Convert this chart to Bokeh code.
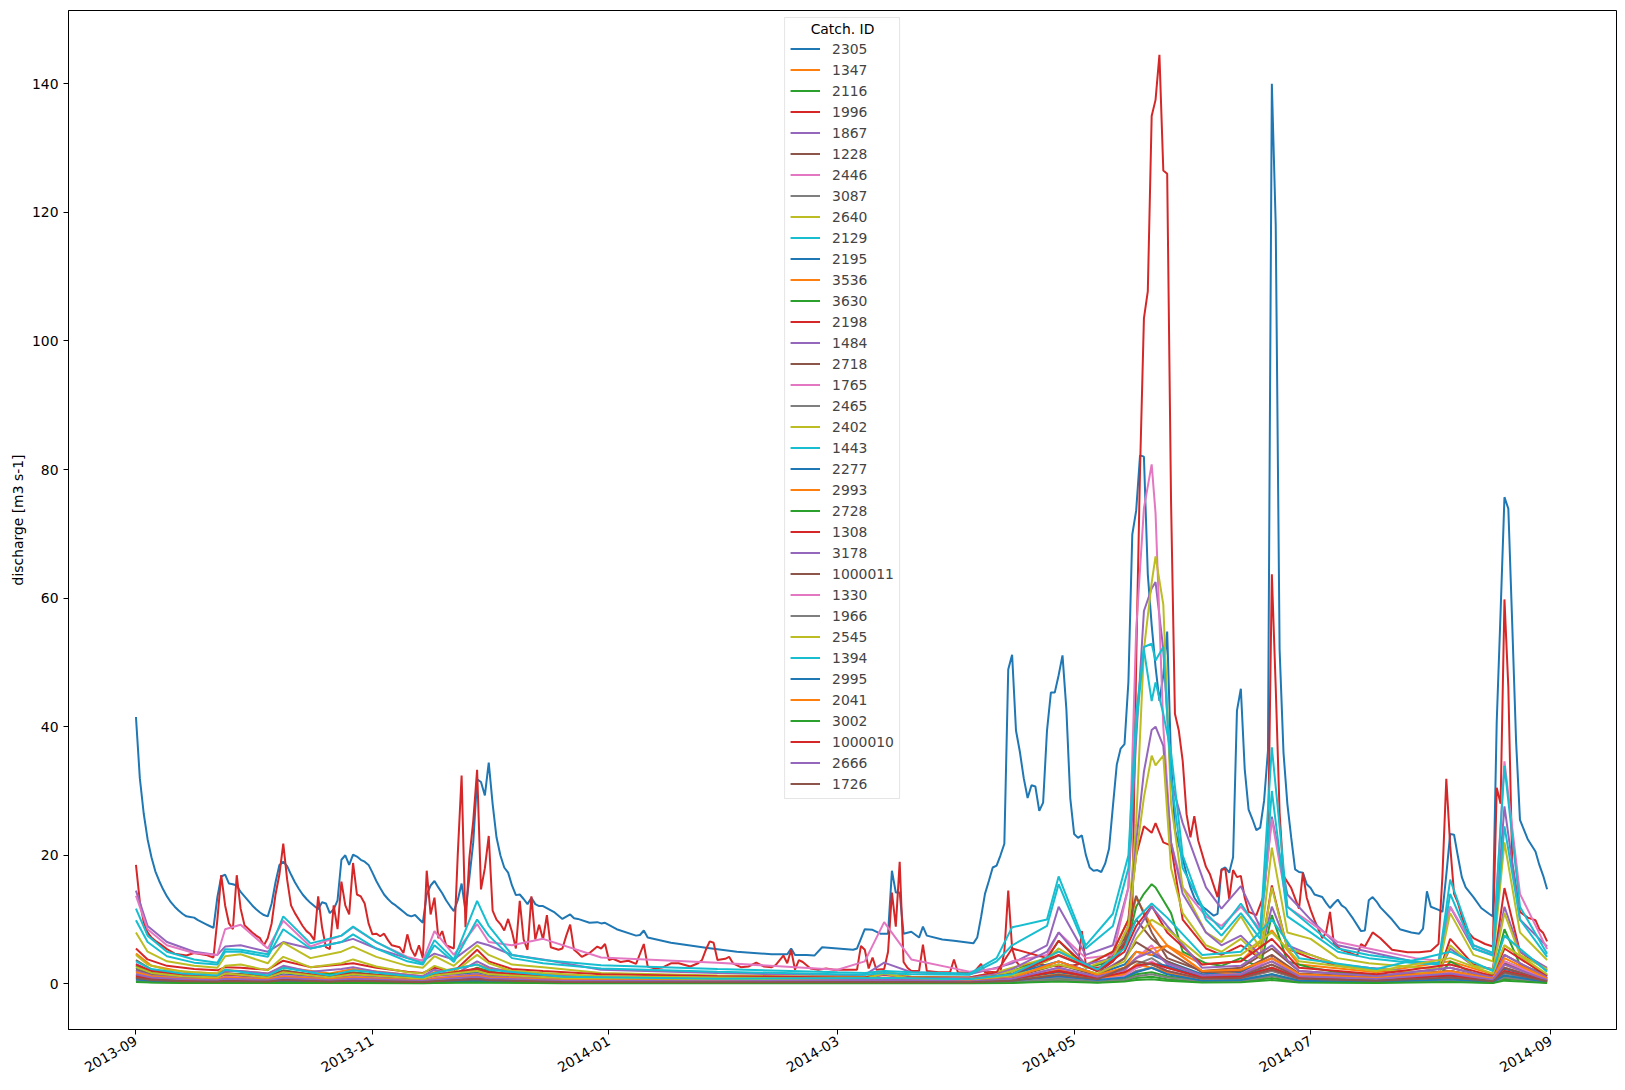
import datetime as dt
import math
from bokeh.plotting import figure
from bokeh.models import FixedTicker, DatetimeTickFormatter, Range1d, Label
from bokeh.embed import file_html
from bokeh.resources import INLINE

START = dt.datetime(2013, 9, 1)
EPOCH = dt.datetime(1970, 1, 1)
FONT = "DejaVu Sans"
TAB10 = ["#1f77b4", "#ff7f0e", "#2ca02c", "#d62728", "#9467bd",
         "#8c564b", "#e377c2", "#7f7f7f", "#bcbd22", "#17becf"]

catch_ids = ["2305", "1347", "2116", "1996", "1867", "1228", "2446", "3087", "2640", "2129",
             "2195", "3536", "3630", "2198", "1484", "2718", "1765", "2465", "2402", "1443",
             "2277", "2993", "2728", "1308", "3178", "1000011", "1330", "1966", "2545", "1394",
             "2995", "2041", "3002", "1000010", "2666", "1726"]

# ---- dense series: (day since 2013-09-01, discharge) ----
q2305 = [(0,41.5),(1,32),(2,26.5),(3,22.5),(4,19.7),(5,17.5),(6,16),(7,14.7),(8,13.6),(9,12.7),(10,12),(11,11.4),(12,10.9),(13,10.5),(14,10.4),(15,10.3),(16,9.9),(17,9.6),(18,9.3),(19,9),(20,8.7),(21,13.5),(22,16.7),(23,17),(24,15.6),(25,15.5),(26,15.3),(27,14.3),(28,13.6),(29,12.9),(30,12.2),(31,11.6),(32,11.1),(33,10.7),(34,10.5),(35,12.5),(36,15.8),(37,18.5),(38,19),(39,18.3),(40,17),(41,15.8),(42,14.8),(43,13.9),(44,13.2),(45,12.6),(46,12.1),(47,11.6),(48,12.7),(49,12.5),(50,11),(51,11.6),(52,13),(53,19.3),(54,20),(55,18.5),(56,20.1),(57,19.8),(58,19.3),(59,19),(60,18.5),(61,17.3),(62,16),(63,14.9),(64,13.9),(65,13.2),(66,12.6),(67,12.2),(68,11.7),(69,11.2),(70,10.7),(71,10.5),(72,10.7),(73,10.1),(74,9.5),(75,13.9),(76,15.3),(77,16),(78,15),(79,14.1),(80,13),(81,12.1),(82,11.3),(83,13),(84,15.6),(85,11.3),(86,16.5),(87,22),(88,31.8),(89,31.4),(90,29.3),(91,34.4),(92,28),(93,22.8),(94,20),(95,18.1),(96,17.3),(97,15.3),(98,13.8),(99,13.9),(100,13.2),(101,12.4),(102,13.4),(103,12.4),(104,12.1),(105,12.1),(108,11.1),(110,10.1),(112,10.8),(113,10.2),(114,10.1),(117,9.5),(119,9.6),(120,9.4),(121,9.5),(124,8.5),(129,7.5),(130,7.6),(131,8.3),(132,7.2),(138,6.4),(147,5.6),(155,5.0),(164,4.6),(168,4.6),(169,5.5),(170,4.5),(173,4.5),(175,4.4),(177,5.7),(181,5.5),(185,5.3),(186,5.5),(188,8.5),(190,8.4),(192,7.8),(194,7.8),(195,17.6),(196,14.2),(197,14.2),(198,7.8),(200,8.1),(202,7.2),(203,8.9),(204,7.5),(208,6.9),(211,6.7),(216,6.3),(217,7.2),(218,10.4),(219,14),(220,16),(221,18.1),(222,18.4),(223,20),(224,21.8),(225,48.9),(226,51.2),(227,39.4),(228,36.1),(229,32),(230,28.9),(231,30.9),(232,30.7),(233,26.9),(234,28.2),(235,39.4),(236,45.3),(237,45.3),(238,48),(239,51.1),(240,42.7),(241,28.9),(242,23.3),(243,22.7),(244,23.1),(245,20.1),(246,18.1),(247,17.6),(248,17.7),(249,17.4),(250,18.7),(251,21),(252,27.6),(253,34.1),(254,36.6),(255,37.3),(256,47),(257,69.9),(258,73.6),(259,82.2),(260,82),(261,63.7),(262,55.8),(263,49.3),(264,44),(265,48),(266,54.8),(267,34.7),(268,24),(269,21.6),(270,19.5),(271,17.1),(272,15),(273,13.4),(274,12.5),(276,11.6),(278,10.6),(279,10.9),(280,17.8),(281,18.1),(282,17.3),(283,19.7),(284,42.5),(285,45.9),(286,33.4),(287,27.1),(288,25.6),(289,23.9),(290,24.3),(291,28.5),(292,36.3),(293,140),(294,118),(295,52),(296,36),(297,28),(298,22.7),(299,17.8),(300,17.4),(301,17.3),(302,15.5),(303,14.9),(304,13.9),(305,13.7),(306,13.5),(307,12.6),(308,11.8),(309,12.5),(310,13.1),(311,12.2),(312,11.8),(314,10.1),(316,8.2),(317,8.3),(318,13),(319,13.5),(320,12.8),(321,11.9),(324,10),(326,8.5),(329,8),(331,7.8),(332,8.6),(333,14.4),(334,12),(336,11.5),(337,11.2),(338,17),(339,23.3),(340,23.2),(341,19.8),(342,16.6),(343,15),(345,13.5),(347,11.8),(349,10.9),(350,10.5),(351,40.7),(352,57.8),(353,75.7),(354,73.9),(355,56),(356,37.7),(357,25.5),(359,22.5),(361,20.6),(362,18.5),(363,16.8),(364,14.7)]

q1996 = [(0,18.5),(1,12.8),(2,9.6),(3,8),(4,7.2),(5,6.7),(6,6.3),(8,5.4),(10,4.7),(13,4.4),(15,4.8),(18,4.5),(20,4.1),(21,10),(22,16.9),(23,12.2),(24,9.4),(25,8.5),(26,16.9),(27,11.7),(28,9.1),(30,8),(31,7.5),(32,7.1),(33,6),(34,7.1),(35,9.4),(36,13.9),(37,17),(38,21.8),(39,16.2),(40,12.2),(41,11),(42,10),(43,9),(44,8.2),(45,7.7),(46,6.8),(47,13.6),(48,8.8),(49,5.7),(50,5.4),(51,12.2),(52,8.5),(53,15.9),(54,12.2),(55,10.8),(56,18.8),(57,13.9),(58,13.6),(59,12.5),(60,9.4),(61,7.7),(62,7.8),(63,7.4),(64,7.8),(65,6.8),(66,6),(68,5.7),(69,4.8),(70,7.7),(71,5.4),(72,4.3),(73,6),(74,4),(75,17.6),(76,10.8),(77,13.4),(78,7.1),(79,8.2),(80,6),(82,5.5),(83,20),(84,32.4),(85,8.8),(86,19.6),(87,25.3),(88,33.3),(89,14.7),(90,18),(91,23),(92,11.4),(93,10),(94,9.3),(95,8.3),(96,10.1),(97,8.1),(98,5.5),(99,12.9),(100,6.9),(101,5.3),(102,13.6),(103,6.9),(104,9.2),(105,6.9),(106,10.7),(107,5.7),(109,5.3),(110,5.5),(111,7.5),(112,9.2),(113,5.3),(114,4.8),(115,4.2),(117,4.8),(119,5.8),(120,5.5),(121,6.2),(122,3.7),(123,3.9),(125,3.4),(127,3.6),(129,3.1),(131,6.2),(132,2.7),(134,2.4),(136,2.6),(138,3.2),(140,3.2),(143,2.7),(145,3.2),(146,3.7),(147,5.3),(148,6.6),(149,6.4),(150,3.7),(152,3.9),(153,4.2),(154,3.2),(156,2.6),(158,2.7),(160,3.3),(162,2.7),(164,2.6),(165,2.9),(167,4.4),(168,3.2),(169,5.3),(170,2.2),(171,3.7),(172,3.4),(174,2.4),(176,2.2),(178,2.4),(180,2.2),(184,2.2),(186,2.2),(187,5.9),(188,5.3),(189,2.4),(190,4.1),(191,2.2),(193,2.3),(194,5),(195,14.2),(196,8.9),(197,19),(198,3.4),(199,2.5),(200,2),(202,2),(203,6.1),(204,2),(207,1.8),(210,1.8),(211,3.8),(212,1.8),(216,1.7),(218,3.1),(219,1.8),(223,1.9),(224,5),(225,14.5),(226,5.5),(227,3.5),(228,2.8),(230,3.1),(233,3),(236,2.8),(240,2.7),(243,3),(244,8.2),(245,3),(247,2.5),(250,2.6),(252,3.5),(254,5),(255,6.2),(256,7.7),(257,10.9),(258,50),(259,80),(260,103.5),(261,107.7),(262,135),(263,137.5),(264,144.5),(265,126.5),(266,126),(267,75),(268,42),(269,39.4),(270,34.7),(271,26.4),(272,22.8),(273,26.1),(274,22.3),(276,18.2),(277,17.1),(279,13.5),(280,17.7),(281,17.9),(282,13.2),(283,17.7),(284,16.6),(285,16.8),(286,13.4),(287,11.2),(289,10.7),(291,13.9),(292,21.5),(293,63.7),(294,46.1),(295,26.6),(296,16.8),(298,14.9),(300,11.7),(301,17.3),(302,13.4),(303,11.5),(304,9.9),(305,8.5),(306,7.1),(307,8),(308,11.2),(309,6.2),(311,5.3),(315,4.4),(316,6.2),(317,5.8),(319,8),(321,7.1),(324,5.3),(328,4.9),(331,4.9),(334,5.1),(336,6.2),(337,16.8),(338,31.9),(339,21.5),(340,14),(341,12.6),(343,8.5),(345,7.1),(348,6.2),(350,5.8),(351,30.5),(352,28),(353,59.8),(354,46.1),(355,18.8),(357,11.2),(359,10.3),(361,9.9),(362,8.5),(363,7.9),(364,6.6)]

# ---- medium series on a shared list of sampled days ----
KD1 = [0, 3, 8, 15, 21, 23, 27, 34, 38, 45, 53, 56, 62, 70, 74, 77, 82, 88, 91, 97,
       105, 120, 150, 181, 188, 193, 200, 215, 222, 226, 235, 238, 245, 252,
       256, 258, 260, 262, 263, 265, 267, 270,
       276, 280, 285, 290, 293, 297, 303, 310, 318, 330, 336, 339, 345, 350, 353, 357, 364]

q2446 = [13.7, 8.5, 6.0, 4.8, 4.5, 8.5, 9.2, 5.5, 9.8, 5.8, 7.5, 8.8, 6.5, 4.2, 3.6, 8.2, 4.5, 9.3, 6.5, 6.0,
         7.0, 4.1, 3.3, 2.2, 3.5, 9.6, 3.8, 1.9, 2.4, 3.5, 4.5, 8.0, 4.0, 4.5,
         15, 55, 74, 80.8, 73.2, 40, 22, 15,
         10.5, 9.0, 12.0, 8.5, 25.6, 12.0, 9.5, 6.5, 5.5, 4.0, 3.6, 12.0, 6.0, 4.8, 34.6, 14.0, 5.4]
q1867 = [14.5, 9.0, 6.5, 5.0, 4.5, 5.8, 6.0, 5.0, 6.5, 5.5, 6.5, 7.0, 5.5, 4.0, 3.6, 4.7, 3.8, 6.5, 6.0, 4.5,
         3.8, 2.2, 1.7, 1.3, 1.4, 3.3, 1.8, 1.5, 2.5, 3.2, 6.0, 12.0, 4.5, 6.0,
         15, 38, 58, 61.5, 62.5, 52, 31.6, 25,
         15.0, 11.7, 15.2, 8.8, 26.0, 13.9, 10.0, 6.0, 5.0, 3.4, 3.2, 12.0, 5.5, 4.5, 27.6, 10.0, 5.8]
q2129 = [11.7, 7.5, 5.0, 3.8, 3.3, 5.4, 5.3, 4.6, 10.5, 6.3, 7.5, 8.9, 6.5, 4.0, 3.2, 6.8, 3.8, 12.9, 9.0, 4.5,
         3.7, 2.9, 2.3, 1.8, 1.7, 2.0, 1.8, 1.6, 4.0, 8.8, 10.0, 16.7, 6.0, 10.9,
         20, 42, 52.4, 52.9, 50.3, 52.4, 32, 18,
         11.0, 8.5, 12.5, 8.0, 36.8, 12.0, 9.0, 5.5, 4.5, 3.5, 3.2, 16.2, 6.0, 4.8, 33.9, 12.0, 4.7]
q1443 = [9.9, 6.5, 4.3, 3.3, 3.0, 5.0, 5.0, 4.2, 8.5, 5.5, 6.5, 7.7, 5.5, 3.5, 3.0, 6.0, 3.4, 10.0, 7.5, 4.0,
         3.2, 2.4, 1.9, 1.5, 1.4, 1.7, 1.5, 1.4, 3.5, 6.0, 9.0, 15.5, 5.5, 9.0,
         18, 40, 52, 44, 46.9, 42, 36, 20,
         10.0, 7.5, 11.0, 7.0, 30.0, 10.5, 8.0, 5.0, 4.0, 3.2, 3.0, 14.0, 5.5, 4.4, 24.5, 10.0, 4.2]
q2640 = [8.0, 5.0, 3.5, 2.8, 2.5, 4.3, 4.6, 3.2, 6.4, 4.0, 5.0, 5.8, 4.2, 2.8, 2.5, 4.3, 2.8, 6.0, 4.5, 3.0,
         2.6, 1.7, 1.3, 1.1, 1.05, 2.0, 1.1, 1.0, 1.8, 2.5, 4.0, 5.5, 3.0, 5.0,
         10, 25, 52, 62.4, 66.5, 59, 28, 15,
         8.0, 6.5, 10.5, 5.5, 21.2, 8.0, 7.0, 4.0, 3.2, 2.6, 2.4, 11.0, 4.5, 3.5, 22.0, 8.0, 3.7]
q1484 = [3.1, 2.2, 1.6, 1.3, 1.2, 2.0, 2.0, 1.6, 2.8, 1.9, 2.3, 2.6, 1.9, 1.4, 1.2, 2.2, 1.4, 3.5, 2.6, 1.7,
         1.4, 1.1, 0.9, 0.8, 0.8, 1.5, 0.9, 0.9, 1.5, 2.3, 5.0, 8.0, 3.0, 4.0,
         9, 22, 33, 39.5, 40, 37, 22, 14,
         8.0, 6.0, 7.5, 4.5, 12.0, 6.0, 4.5, 3.0, 2.5, 1.9, 1.8, 5.5, 2.8, 2.3, 12.0, 5.0, 2.5]
q2402 = [4.5, 3.0, 2.2, 1.8, 1.6, 2.8, 3.0, 2.1, 4.2, 2.6, 3.2, 3.8, 2.7, 1.8, 1.6, 2.8, 1.8, 4.5, 3.2, 2.0,
         1.7, 1.2, 1.0, 0.8, 0.8, 1.6, 0.8, 0.8, 1.3, 2.0, 3.5, 5.5, 2.5, 4.0,
         9, 20, 29, 35.5, 34, 35.5, 18, 11,
         6.0, 5.0, 7.0, 4.0, 15.0, 5.5, 4.5, 3.0, 2.4, 1.8, 1.7, 6.0, 2.8, 2.2, 11.0, 4.5, 2.3]
q2198 = [5.5, 3.8, 2.8, 2.3, 2.1, 2.6, 2.5, 2.2, 3.6, 2.6, 3.0, 3.2, 2.5, 1.9, 1.7, 2.5, 1.9, 5.3, 3.5, 2.3,
         2.0, 1.5, 1.2, 1.0, 1.0, 1.4, 1.0, 1.0, 1.8, 5.5, 4.0, 6.7, 2.8, 5.0,
         10, 20, 24.5, 23.5, 25, 22, 21.5, 10,
         5.5, 4.5, 6.0, 4.0, 15.3, 5.5, 4.0, 2.8, 2.3, 1.7, 1.6, 7.0, 3.0, 2.2, 14.9, 5.0, 2.1]
q2116 = [2.8, 1.9, 1.4, 1.1, 1.0, 1.5, 1.5, 1.2, 2.1, 1.4, 1.6, 1.8, 1.4, 1.1, 1.0, 1.5, 1.1, 2.5, 2.0, 1.3,
         1.1, 0.8, 0.6, 0.5, 0.5, 0.8, 0.5, 0.5, 1.0, 2.0, 4.0, 6.7, 2.5, 3.5,
         7, 12, 14, 15.5, 15, 13, 11, 5,
         3.2, 2.8, 4.0, 2.5, 10.7, 3.5, 2.5, 1.8, 1.5, 1.1, 1.0, 3.5, 1.6, 1.3, 8.5, 3.0, 1.4]

# ---- small series on a coarser list of sampled days ----
KD2 = [0, 4, 12, 21, 23, 34, 38, 50, 56, 74, 77, 88, 91, 110, 150, 195, 215, 226, 238, 248,
       255, 258, 262, 266, 275, 285, 293, 300, 320, 339, 350, 353, 364]

q1347 = [4.7, 2.8, 1.9, 1.6, 2.2, 1.6, 2.6, 1.6, 2.3, 1.2, 1.8, 3, 2.4, 1.3, 0.8, 1, 0.7, 1.6, 5, 2, 6, 13.4, 9, 6, 3, 3.5, 8.3, 3, 1.8, 3.5, 1.5, 6, 1.3]
q1228 = [3.7, 2.2, 1.5, 1.2, 1.7, 1.2, 2, 1.2, 1.7, 0.9, 1.4, 2.2, 1.8, 1, 0.6, 0.8, 0.5, 1.2, 4.4, 2, 7, 13.7, 8, 4, 2, 2.5, 5.5, 2, 1.2, 2.5, 1, 4.5, 0.9]
q3087 = [1.2, 0.8, 0.5, 0.4, 0.6, 0.4, 0.7, 0.4, 0.6, 0.3, 0.5, 0.9, 0.7, 0.4, 0.3, 0.3, 0.3, 0.5, 1.5, 0.7, 1.5, 3, 4, 2.5, 1, 1.1, 3, 1, 0.6, 1.2, 0.5, 2.5, 0.5]
q2195 = [2.5, 1.6, 1.1, 0.9, 1.3, 0.9, 1.5, 0.9, 1.3, 0.7, 1.1, 1.8, 1.4, 0.8, 0.6, 0.7, 0.6, 1.5, 3.5, 1.5, 3, 5, 4.5, 3.5, 1.5, 1.8, 4, 1.5, 1, 2, 0.8, 3.5, 0.8]
q3536 = [1.5, 1, 0.7, 0.6, 0.8, 0.6, 0.9, 0.6, 0.8, 0.5, 0.7, 1.1, 0.9, 0.5, 0.4, 0.4, 0.4, 0.7, 2.2, 1.2, 2.5, 4, 5.5, 5.9, 2, 1.5, 3.5, 1.2, 0.8, 1.5, 0.6, 3, 0.6]
q3630 = [0.6, 0.4, 0.3, 0.25, 0.3, 0.25, 0.4, 0.25, 0.35, 0.2, 0.3, 0.5, 0.4, 0.25, 0.2, 0.2, 0.2, 0.3, 0.8, 0.4, 0.8, 1.5, 1.8, 1.2, 0.5, 0.6, 1.5, 0.5, 0.3, 0.6, 0.3, 1.2, 0.3]
q2718 = [2.2, 1.4, 1, 0.8, 1.1, 0.8, 1.3, 0.8, 1.1, 0.6, 0.9, 1.5, 1.2, 0.7, 0.5, 0.6, 0.5, 1, 3, 1.3, 6.5, 10, 7, 5, 1.8, 2, 4.5, 1.6, 1, 2, 0.8, 3.2, 0.7]
q1765 = [1.8, 1.2, 0.8, 0.7, 1.2, 0.7, 1.3, 0.7, 1.1, 0.5, 1, 1.5, 1.1, 0.6, 0.5, 0.9, 0.4, 0.8, 2.5, 1, 2, 4, 6, 3, 1.2, 1.5, 4, 1.3, 0.8, 1.8, 0.7, 3.5, 0.7]
q2465 = [0.8, 0.5, 0.35, 0.3, 0.4, 0.3, 0.5, 0.3, 0.45, 0.25, 0.35, 0.6, 0.5, 0.3, 0.2, 0.25, 0.2, 0.35, 1, 0.5, 1, 2, 2.5, 1.6, 0.7, 0.8, 2, 0.7, 0.4, 0.8, 0.35, 1.6, 0.35]
q2277 = [1.2, 0.8, 0.55, 0.45, 0.6, 0.45, 0.7, 0.45, 0.65, 0.35, 0.5, 0.9, 0.7, 0.4, 0.3, 0.35, 0.3, 0.8, 1.8, 0.9, 1.5, 2.5, 3.2, 2.8, 1, 1.2, 2.5, 0.9, 0.6, 1.3, 0.5, 2.2, 0.5]
q2993 = [1, 0.65, 0.45, 0.35, 0.5, 0.35, 0.6, 0.35, 0.5, 0.3, 0.4, 0.7, 0.55, 0.3, 0.25, 0.3, 0.25, 0.5, 1.5, 0.7, 1.5, 3, 2.5, 1.8, 0.7, 0.9, 2.5, 0.7, 0.45, 0.9, 0.4, 2, 0.4]
q2728 = [0.4, 0.25, 0.2, 0.15, 0.2, 0.15, 0.25, 0.15, 0.2, 0.12, 0.18, 0.3, 0.25, 0.15, 0.12, 0.12, 0.12, 0.2, 0.5, 0.25, 0.5, 0.9, 1.1, 0.7, 0.3, 0.35, 0.9, 0.3, 0.2, 0.4, 0.18, 0.8, 0.18]
q1308 = [3, 2, 1.4, 1.1, 1.5, 1.1, 1.9, 1.1, 1.6, 0.8, 1.3, 2.4, 1.8, 1, 0.7, 0.9, 0.7, 1.5, 4.5, 2, 5, 9, 12.1, 8, 3, 3.5, 7, 2.5, 1.5, 3, 1.2, 5.5, 1.2]
q3178 = [2, 1.3, 0.9, 0.7, 1, 0.7, 1.2, 0.7, 1, 0.5, 0.8, 1.5, 1.1, 0.6, 0.5, 0.8, 0.5, 1, 3.5, 1.5, 4, 8, 12, 9, 2.5, 2.8, 6, 2, 1.2, 2.5, 1, 4.5, 1]
q1000011 = [1.4, 0.9, 0.6, 0.5, 0.7, 0.5, 0.8, 0.5, 0.7, 0.4, 0.6, 1, 0.8, 0.45, 0.35, 0.4, 0.35, 0.7, 2, 1, 4, 6.5, 5, 3.5, 1.2, 1.4, 3, 1.1, 0.7, 1.4, 0.6, 2.5, 0.5]
q1330 = [1, 0.65, 0.45, 0.4, 0.6, 0.4, 0.7, 0.4, 0.6, 0.3, 0.5, 0.8, 0.6, 0.35, 0.3, 0.5, 0.25, 0.5, 1.2, 0.6, 1.2, 2.5, 3.5, 2, 0.8, 0.9, 2.2, 0.8, 0.5, 1, 0.4, 2, 0.4]
q1966 = [0.5, 0.3, 0.22, 0.18, 0.25, 0.18, 0.3, 0.18, 0.25, 0.15, 0.2, 0.35, 0.3, 0.18, 0.14, 0.15, 0.14, 0.22, 0.6, 0.3, 0.6, 1.2, 1.5, 1, 0.4, 0.45, 1.2, 0.4, 0.25, 0.5, 0.22, 1, 0.22]
q2545 = [2.6, 1.7, 1.2, 1, 1.6, 1, 1.8, 1, 1.5, 0.8, 1.3, 2, 1.5, 0.9, 0.7, 0.9, 0.6, 1.3, 3, 1.6, 3.5, 7, 10, 8.5, 4, 4.5, 8, 3.5, 2, 4, 1.6, 6, 1.5]
q1394 = [3.5, 2.3, 1.6, 1.3, 2.2, 1.3, 2.5, 1.3, 2.1, 1, 1.7, 3, 2.2, 1.1, 0.8, 0.9, 0.7, 1.5, 5, 2.2, 5.5, 10, 12.5, 10.3, 4.5, 5, 10, 4, 2.3, 5, 2, 7.5, 1.9]
q2995 = [0.7, 0.45, 0.3, 0.25, 0.35, 0.25, 0.4, 0.25, 0.35, 0.2, 0.3, 0.5, 0.4, 0.22, 0.18, 0.2, 0.18, 0.5, 1.2, 0.6, 1, 1.8, 2.5, 1.5, 0.5, 0.6, 1.5, 0.5, 0.3, 0.7, 0.3, 1.3, 0.3]
q2041 = [1.8, 1.2, 0.8, 0.7, 1, 0.7, 1.1, 0.7, 1, 0.5, 0.8, 1.3, 1, 0.6, 0.45, 0.5, 0.4, 0.9, 3.5, 1.4, 2.5, 5, 4.5, 6, 2, 2.2, 4, 1.5, 0.9, 2, 0.8, 4, 0.8]
q3002 = [0.3, 0.2, 0.15, 0.12, 0.15, 0.12, 0.18, 0.12, 0.15, 0.1, 0.13, 0.22, 0.18, 0.11, 0.09, 0.1, 0.09, 0.15, 0.35, 0.18, 0.35, 0.6, 0.7, 0.5, 0.2, 0.25, 0.6, 0.2, 0.14, 0.3, 0.13, 0.5, 0.13]
q1000010 = [1.1, 0.7, 0.5, 0.4, 0.6, 0.4, 0.7, 0.4, 0.6, 0.3, 0.5, 1, 0.7, 0.4, 0.3, 0.5, 0.3, 0.8, 2, 0.9, 1.8, 2.8, 3.2, 2.5, 1, 1.1, 2.5, 0.9, 0.6, 1.3, 0.5, 2, 0.5]
q2666 = [1.5, 1, 0.7, 0.55, 0.8, 0.55, 0.9, 0.55, 0.8, 0.45, 0.65, 1.1, 0.85, 0.5, 0.4, 0.6, 0.35, 0.8, 2.5, 1.1, 2.2, 4, 5, 3.2, 1.3, 1.5, 3.5, 1.2, 0.75, 1.6, 0.65, 3, 0.6]
q1726 = [0.9, 0.6, 0.4, 0.35, 0.45, 0.35, 0.55, 0.35, 0.5, 0.28, 0.4, 0.7, 0.55, 0.3, 0.25, 0.3, 0.25, 0.5, 1.4, 0.7, 2.5, 3.5, 3, 2, 0.8, 0.9, 2.2, 0.8, 0.5, 1, 0.4, 1.8, 0.4]

series = {
    "2305": q2305, "1996": q1996,
    "2446": (KD1, q2446), "1867": (KD1, q1867), "2129": (KD1, q2129), "1443": (KD1, q1443),
    "2640": (KD1, q2640), "1484": (KD1, q1484), "2402": (KD1, q2402), "2198": (KD1, q2198),
    "2116": (KD1, q2116),
    "1347": (KD2, q1347), "1228": (KD2, q1228), "3087": (KD2, q3087), "2195": (KD2, q2195),
    "3536": (KD2, q3536), "3630": (KD2, q3630), "2718": (KD2, q2718), "1765": (KD2, q1765),
    "2465": (KD2, q2465), "2277": (KD2, q2277), "2993": (KD2, q2993), "2728": (KD2, q2728),
    "1308": (KD2, q1308), "3178": (KD2, q3178), "1000011": (KD2, q1000011), "1330": (KD2, q1330),
    "1966": (KD2, q1966), "2545": (KD2, q2545), "1394": (KD2, q1394), "2995": (KD2, q2995),
    "2041": (KD2, q2041), "3002": (KD2, q3002), "1000010": (KD2, q1000010), "2666": (KD2, q2666),
    "1726": (KD2, q1726),
}

def get_xy(entry):
    if isinstance(entry, tuple):
        days, vals = entry
        pairs = list(zip(days, vals))
    else:
        pairs = entry
    xs = [START + dt.timedelta(days=d) for d, _ in pairs]
    ys = [v for _, v in pairs]
    return xs, ys

def ms(d):
    return (d - EPOCH).total_seconds() * 1000.0

X_LO, X_HI = -17.4, 381.9
x0 = START + dt.timedelta(days=X_LO)
x1 = START + dt.timedelta(days=X_HI)

p = figure(width=1625, height=1090, x_axis_type="datetime",
           x_range=Range1d(x0, x1), y_range=Range1d(-7.1, 151.4),
           output_backend="svg", toolbar_location=None,
           min_border_left=68, min_border_right=9, min_border_top=10, min_border_bottom=61)

for i, cid in enumerate(catch_ids):
    xs, ys = get_xy(series[cid])
    p.line(xs, ys, color=TAB10[i % 10], line_width=2, legend_label=cid)

p.xgrid.visible = False
p.ygrid.visible = False
p.outline_line_color = "black"
p.outline_line_width = 1
p.background_fill_color = "white"
p.border_fill_color = "white"

tick_dates = [dt.datetime(2013, 9, 1), dt.datetime(2013, 11, 1), dt.datetime(2014, 1, 1),
              dt.datetime(2014, 3, 1), dt.datetime(2014, 5, 1), dt.datetime(2014, 7, 1),
              dt.datetime(2014, 9, 1)]
p.xaxis.ticker = FixedTicker(ticks=[ms(d) for d in tick_dates])
fmt = "%Y-%m"
p.xaxis.formatter = DatetimeTickFormatter(milliseconds=fmt, seconds=fmt, minsec=fmt, minutes=fmt,
                                          hourmin=fmt, hours=fmt, days=fmt, months=fmt, years=fmt)
p.xaxis.major_label_orientation = math.pi / 6
p.yaxis.ticker = FixedTicker(ticks=[0, 20, 40, 60, 80, 100, 120, 140])
p.yaxis.axis_label = "discharge [m3 s-1]"

for ax in (p.xaxis, p.yaxis):
    ax.minor_tick_line_color = None
    ax.major_tick_out = 5
    ax.major_tick_in = 0
    ax.major_tick_line_color = "black"
    ax.axis_line_color = "black"
    ax.major_label_text_font = FONT
    ax.major_label_text_font_size = "13.9px"
    ax.major_label_text_color = "black"
    ax.major_label_standoff = 5
    ax.axis_label_text_font = FONT
    ax.axis_label_text_font_size = "13.9px"
    ax.axis_label_text_font_style = "normal"
    ax.axis_label_text_color = "black"
p.yaxis.axis_label_standoff = 3

lg = p.legend[0]
lg.location = "top_center"
lg.margin = 7
lg.title = " "
lg.title_text_font = FONT
lg.title_text_font_size = "13.9px"
lg.title_text_font_style = "normal"
lg.title_standoff = 0
lg.label_text_font = FONT
lg.label_text_font_size = "13.9px"
lg.glyph_width = 30
lg.glyph_height = 19
lg.label_height = 19
lg.spacing = 2
lg.padding = 5
lg.label_standoff = 12
# no lines pass behind the legend box, so a transparent fill looks the same and
# keeps the centred title (drawn separately) fully visible
lg.background_fill_alpha = 0.0
lg.border_line_color = "#cccccc"
lg.border_line_width = 1

# centred legend title, placed at the middle of the plotting frame
title_x = ms(START + dt.timedelta(days=(X_LO + X_HI) / 2))
p.add_layout(Label(x=title_x, y=148.5, text="Catch. ID", text_align="center",
                   text_baseline="middle", text_font=FONT, text_font_size="13.9px",
                   text_color="black"))

open("out.html", "w").write(file_html(p, INLINE))
